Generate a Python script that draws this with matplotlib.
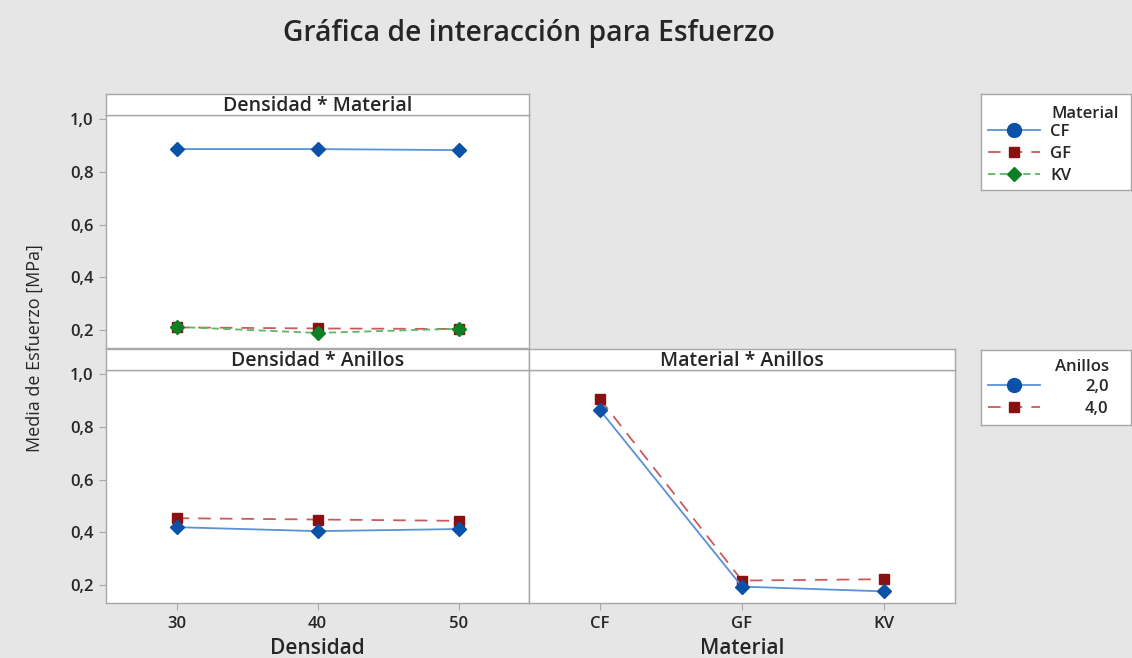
import matplotlib
matplotlib.use("Agg")
import matplotlib.pyplot as plt
from matplotlib.lines import Line2D

plt.rcParams['font.family'] = ['Open Sans', 'DejaVu Sans']

# Factor levels
densidad = [30, 40, 50]
materiales = ["CF", "GF", "KV"]
anillos = ["2,0", "4,0"]

# Mean stress, Densidad x Material
dm_cf = [0.886, 0.886, 0.882]
dm_gf = [0.211, 0.207, 0.205]
dm_kv = [0.213, 0.190, 0.206]

# Mean stress, Densidad x Anillos
da_2 = [0.420, 0.405, 0.413]
da_4 = [0.454, 0.449, 0.444]

# Mean stress, Material x Anillos
ma_2 = [0.863, 0.195, 0.177]
ma_4 = [0.905, 0.218, 0.223]

yticks = [0.2, 0.4, 0.6, 0.8, 1.0]

W, H = 1132, 658
BG = '#e6e6e6'
EDGE = '#a8a8a8'
TXT = '#262626'

BLUE_M, BLUE_L = '#0a52a8', '#5a90d8'
RED_M, RED_L = '#8b1010', '#c85c5c'
GREEN_M, GREEN_L = '#0d7f24', '#5cb862'

sty = {
    'blue': dict(color=BLUE_L, marker='D', mfc=BLUE_M, mec=BLUE_M, ms=7.5, lw=1.3, ls='-'),
    'red': dict(color=RED_L, marker='s', mfc=RED_M, mec=RED_M, ms=7, lw=1.3, ls=(0, (7, 5))),
    'green': dict(color=GREEN_L, marker='D', mfc=GREEN_M, mec=GREEN_M, ms=7.5, lw=1.3, ls=(0, (4, 2.5))),
}

fig = plt.figure(figsize=(W / 100, H / 100), dpi=100, facecolor=BG)


def box(x0, y0, x1, y1):
    """Pixel box (top-left origin) -> figure fraction rect."""
    return [x0 / W, 1 - y1 / H, (x1 - x0) / W, (y1 - y0) / H]


def fmt(v):
    return f"{v:.1f}".replace('.', ',')


TICK_FS = 12


def style_axes(ax, show_y, xt, xtl):
    ax.set_facecolor('white')
    for s in ax.spines.values():
        s.set_color(EDGE)
        s.set_linewidth(1.0)
    ax.set_ylim(0.133, 1.015)
    ax.set_yticks(yticks)
    ax.tick_params(axis='both', direction='out', length=5, color=EDGE, pad=4)
    if show_y:
        ax.set_yticklabels([fmt(v) for v in yticks], fontsize=TICK_FS, color=TXT, fontweight='semibold')
    else:
        ax.set_yticklabels([])
        ax.tick_params(axis='y', length=0)
    ax.set_xticks(xt)
    if xtl is None:
        ax.set_xticklabels([])
        ax.tick_params(axis='x', length=0)
    else:
        ax.set_xticklabels(xtl, fontsize=TICK_FS, color=TXT, fontweight='semibold')


def strip(x0, x1, y0, y1, text):
    s = fig.add_axes(box(x0, y0, x1, y1))
    s.set_facecolor('white')
    s.set_xticks([])
    s.set_yticks([])
    for sp in s.spines.values():
        sp.set_color(EDGE)
        sp.set_linewidth(1.0)
    s.text(0.5, 0.42, text, ha='center', va='center', fontsize=14,
           fontweight='semibold', color=TXT, transform=s.transAxes)


# Densidad * Material
ax1 = fig.add_axes(box(106, 115, 529, 348))
ax1.plot(densidad, dm_cf, **sty['blue'], zorder=4)
ax1.plot(densidad, dm_gf, **sty['red'], zorder=3)
ax1.plot(densidad, dm_kv, **sty['green'], zorder=5)
ax1.set_xlim(25, 55)
style_axes(ax1, True, densidad, None)
strip(106, 529, 94, 115, "Densidad * Material")

# Densidad * Anillos
ax2 = fig.add_axes(box(106, 370, 529, 603))
ax2.plot(densidad, da_2, **sty['blue'], zorder=4)
ax2.plot(densidad, da_4, **sty['red'], zorder=3)
ax2.set_xlim(25, 55)
style_axes(ax2, True, densidad, [str(d) for d in densidad])
strip(106, 529, 349, 370, "Densidad * Anillos")

# Material * Anillos
ax3 = fig.add_axes(box(529, 370, 955, 603))
xm = list(range(len(materiales)))
ax3.plot(xm, ma_2, **sty['blue'], zorder=4)
ax3.plot(xm, ma_4, **sty['red'], zorder=3)
ax3.set_xlim(-0.5, 2.5)
style_axes(ax3, False, xm, materiales)
strip(529, 955, 349, 370, "Material * Anillos")

# Titles and axis labels
fig.text(529 / W, 1 - 34 / H, "Gráfica de interacción para Esfuerzo", ha='center', va='center',
         fontsize=20.3, fontweight='semibold', color=TXT)
fig.text(35 / W, 1 - 348 / H, "Media de Esfuerzo [MPa]", rotation=90, ha='center', va='center',
         fontsize=13, color=TXT)
fig.text(317 / W, 1 - 649 / H, "Densidad", ha='center', va='center', fontsize=15,
         fontweight='semibold', color=TXT)
fig.text(742 / W, 1 - 649 / H, "Material", ha='center', va='center', fontsize=15,
         fontweight='semibold', color=TXT)

LEG_FS = 12


def handle(key, marker):
    d = dict(sty[key])
    d['marker'] = marker
    d['ms'] = 10 if marker == 'o' else 7
    return Line2D([], [], **d)


def legend_box(x0, y0, x1, y1, handles, labels, title, tx, ty, tha, rows_center, textpad):
    lb = fig.add_axes(box(x0, y0, x1, y1))
    lb.set_facecolor('white')
    lb.set_xticks([])
    lb.set_yticks([])
    lb.set_xlim(x0, x1)
    lb.set_ylim(y1, y0)
    for sp in lb.spines.values():
        sp.set_color(EDGE)
        sp.set_linewidth(1.0)
    lb.text(tx, ty, title, ha=tha, va='center', fontsize=LEG_FS, fontweight='semibold', color=TXT)
    fy = (y1 - rows_center) / (y1 - y0)
    leg = lb.legend(handles, labels, loc='center left', bbox_to_anchor=(0.005, fy),
                    frameon=False, fontsize=LEG_FS, handlelength=3.1,
                    handletextpad=textpad, labelspacing=0.37, borderaxespad=0.0)
    for t in leg.get_texts():
        t.set_fontweight('semibold')
        t.set_color(TXT)
    return leg


legend_box(981, 94, 1131, 190,
           [handle('blue', 'o'), handle('red', 's'), handle('green', 'D')],
           materiales, "Material", 1051, 114, 'left', 154, 0.6)
legend_box(981, 350, 1131, 425,
           [handle('blue', 'o'), handle('red', 's')],
           anillos, "Anillos", 1109, 367, 'right', 398, 2.7)

fig.savefig("out.png", dpi=100, facecolor=BG)
